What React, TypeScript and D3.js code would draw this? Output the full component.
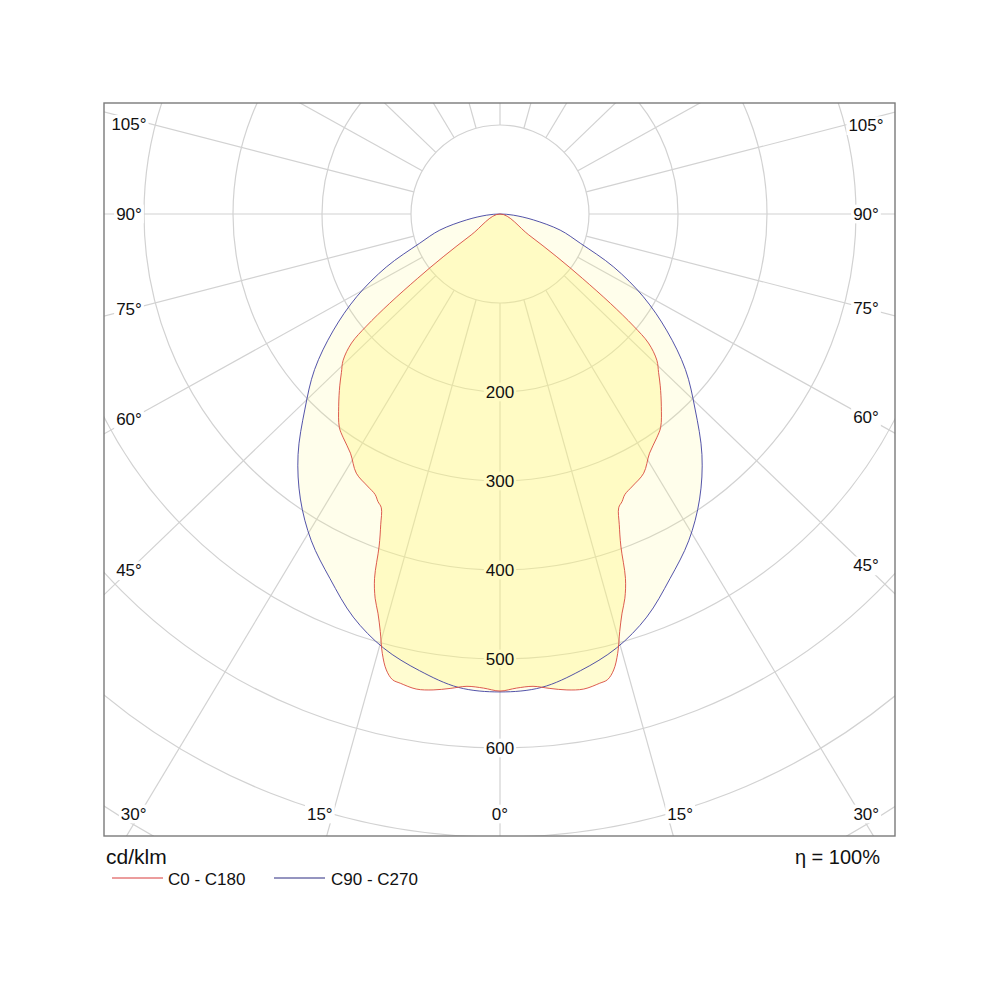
import React from 'react';
import * as d3 from 'd3';

// luminous intensity, cd/klm, by gamma angle (0 = straight down)
const c0Angles = [0, 2, 4, 6, 8, 10, 12, 13, 14, 15, 16, 17, 18, 19, 20, 21, 22, 23, 24, 26, 29, 32, 35, 37, 40, 43, 45, 47, 49, 50, 51, 52, 53, 54, 55];
const c0Values = [536, 533, 532, 536, 540, 542, 539, 537, 528, 511, 488, 469, 454, 433, 397, 374, 356, 351, 345, 340, 333, 317, 307, 300, 282, 264, 252, 241, 221, 196, 160, 118, 80, 40, 0];

const c90Angles = [0, 5, 10, 15, 20, 25, 30, 35, 40, 45, 50, 55, 60, 65, 70, 75, 80, 85, 90];
const c90Values = [537, 534, 521, 505, 482, 452, 424, 391, 353, 310, 272, 229, 186, 141, 96, 70, 38, 15, 0];

const ringValues = [100, 200, 300, 400, 500, 600, 700, 800];
const ringLabels = [200, 300, 400, 500, 600];
const sideAngles = [105, 90, 75, 60, 45];
const bottomAngles = [-30, -15, 0, 15, 30];

const FRAME = { left: 104, top: 103, right: 895, bottom: 836 };
const CX = 500;
const CY = 214;
// the grid spokes in the original are drawn slightly wider than tall
const SPOKE_ASPECT = 1.04;
const FONT = '"Liberation Sans", Arial, sans-serif';

const rScale = d3.scaleLinear().domain([0, 100]).range([0, 89]);
const rad = (deg: number) => (deg * Math.PI) / 180;

const toPoints = (angles: number[], values: number[]): [number, number][] => {
  const right = angles.map((a, i) => [Math.PI - rad(a), rScale(values[i])] as [number, number]);
  const left = angles.map((a, i) => [Math.PI + rad(a), rScale(values[i])] as [number, number]).reverse();
  return [...right, ...left.slice(1, -1)];
};

const radial = d3.lineRadial<[number, number]>()
  .angle(d => d[0])
  .radius(d => d[1])
  .curve(d3.curveCatmullRomClosed.alpha(0.5));

const spokeDir = (deg: number) => {
  const x = SPOKE_ASPECT * Math.sin(rad(deg));
  const y = Math.cos(rad(deg));
  const len = Math.hypot(x, y);
  return [x / len, y / len];
};

const labelWidth = (t: string, size: number) =>
  t.split('').reduce((w, ch) => w + (ch === '°' ? 0.4 : 0.556) * size, 0);

type Lbl = { x: number; y: number; text: string; size: number };

const LabelBg = ({ x, y, text, size }: Lbl) => {
  const w = labelWidth(text, size) + 4;
  return <rect x={x - w / 2} y={y - size * 0.55} width={w} height={size * 1.1} fill="#fff" />;
};

const LabelText = ({ x, y, text, size }: Lbl) => (
  <text x={x} y={y} textAnchor="middle" dominantBaseline="central" fontSize={size} fontFamily={FONT} fill="#111">
    {text}
  </text>
);

export default function App() {
  const spokes = d3.range(0, 360, 15);
  const innerR = rScale(100);

  const sideLabels: Lbl[] = sideAngles.flatMap(a => {
    const [ux, uy] = spokeDir(a);
    const nudge = a > 90 ? 6 : 0;
    return [
      { x: 129, y: CY + ((CX - 129) * uy) / ux + nudge, text: `${a}°`, size: 17 },
      { x: 866, y: CY + ((866 - CX) * uy) / ux + nudge, text: `${a}°`, size: 17 },
    ];
  });

  const bottomLabels: Lbl[] = bottomAngles.map(a => {
    const [ux, uy] = spokeDir(Math.abs(a));
    const dy = 814 - CY;
    const shift = Math.abs(a) === 15 ? 13 : Math.abs(a) === 30 ? 6 : 0;
    return { x: CX + Math.sign(a) * ((dy * ux) / uy + shift), y: 814, text: `${Math.abs(a)}°`, size: 17 };
  });

  const ringLbls: Lbl[] = ringLabels.map(v => ({ x: CX, y: CY + rScale(v), text: `${v}`, size: 17 }));
  const allLabels = [...ringLbls, ...sideLabels, ...bottomLabels];

  const c90Path = radial(toPoints(c90Angles, c90Values)) || '';
  const c0Path = radial(toPoints(c0Angles, c0Values)) || '';

  return (
    <>
      <style>{'body{margin:0}'}</style>
      <svg width={1000} height={1000} style={{ display: 'block' }}>
        <defs>
          <clipPath id="frame">
            <rect x={FRAME.left} y={FRAME.top} width={FRAME.right - FRAME.left} height={FRAME.bottom - FRAME.top} />
          </clipPath>
        </defs>
        <rect width={1000} height={1000} fill="#fff" />

        <g clipPath="url(#frame)">
          <g stroke="#d2d2d2" strokeWidth={1.2} fill="none">
            {ringValues.map(v => (
              <circle key={v} cx={CX} cy={CY} r={rScale(v)} />
            ))}
            {spokes.map(a => {
              const [ux, uy] = spokeDir(a);
              return (
                <line
                  key={a}
                  x1={CX + ux * innerR}
                  y1={CY + uy * innerR}
                  x2={CX + ux * 1400}
                  y2={CY + uy * 1400}
                />
              );
            })}
          </g>

          {allLabels.map((l, i) => (
            <LabelBg key={`bg${i}`} {...l} />
          ))}

          <g transform={`translate(${CX},${CY})`}>
            <path d={c90Path} fill="rgb(255,245,120)" fillOpacity={0.15} />
            <path d={c0Path} fill="rgb(255,245,120)" fillOpacity={0.34} />
            <path d={c90Path} fill="none" stroke="#4040a0" strokeWidth={0.9} />
            <path d={c0Path} fill="none" stroke="#d84a40" strokeWidth={0.9} />
          </g>

          {allLabels.map((l, i) => (
            <LabelText key={`tx${i}`} {...l} />
          ))}
        </g>

        <rect
          x={FRAME.left}
          y={FRAME.top}
          width={FRAME.right - FRAME.left}
          height={FRAME.bottom - FRAME.top}
          fill="none"
          stroke="#7a7a7a"
          strokeWidth={1.4}
        />

        <g fontFamily={FONT} fill="#111">
          <text x={106} y={864} fontSize={21}>cd/klm</text>
          <line x1={112} x2={163} y1={878} y2={878} stroke="#d83a3a" strokeWidth={1} />
          <text x={168} y={885} fontSize={17}>C0 - C180</text>
          <line x1={274} x2={325} y1={878} y2={878} stroke="#2a2a80" strokeWidth={1} />
          <text x={331} y={885} fontSize={17}>C90 - C270</text>
          <text x={880} y={864} fontSize={20} textAnchor="end">η =  100%</text>
        </g>
      </svg>
    </>
  );
}
